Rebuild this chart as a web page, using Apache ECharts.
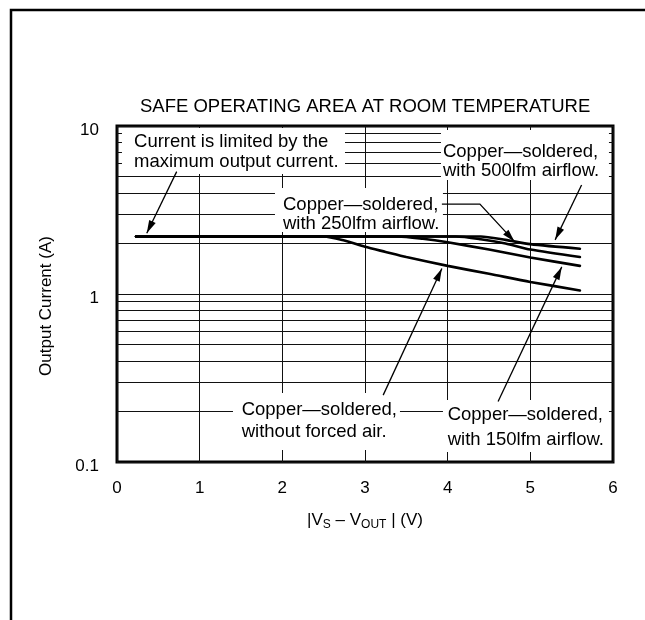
<!DOCTYPE html>
<html>
<head>
<meta charset="utf-8">
<script src="https://cdn.jsdelivr.net/npm/echarts@6/dist/echarts.min.js"></script>
<style>
  html, body { margin: 0; padding: 0; background: #fff; }
  #SoaChart { width: 645px; height: 620px; }
</style>
</head>
<body>
<div id="SoaChart"></div>
<script>
// |Vs - Vout| in volts, output current in amps
const noAirV = [0.23, 2.5, 2.75, 3.0, 3.25, 3.5, 4.0, 4.5, 5.0, 5.6];
const noAirA = [2.2, 2.2, 2.08, 1.91, 1.78, 1.66, 1.47, 1.32, 1.18, 1.05];
const lfm150V = [0.23, 3.4, 3.7, 4.0, 4.5, 5.0, 5.6];
const lfm150A = [2.2, 2.2, 2.13, 2.03, 1.84, 1.65, 1.47];
const lfm250V = [0.23, 4.1, 4.4, 4.7, 5.0, 5.6];
const lfm250A = [2.2, 2.2, 2.12, 2.0, 1.84, 1.66];
const lfm500V = [0.23, 4.4, 4.7, 5.0, 5.6];
const lfm500A = [2.2, 2.2, 2.1, 1.98, 1.86];

const xTicks = [0, 1, 2, 3, 4, 5, 6];
const minorGrid = [0.2, 0.3, 0.4, 0.5, 0.6, 0.7, 0.8, 0.9, 2, 3, 4, 5, 6, 7, 8, 9];

// annotation boxes: [x0, y0, x1, y1] in data units, text anchor, line gap (px)
const notes = [
  { box: [0.06, 9.73, 2.758, 5.18], at: [0.206, 8.06], gap: 20, text: 'Current is limited by the\nmaximum output current.' },
  { box: [3.919, 9.46, 5.951, 4.77], at: [3.943, 7.03], gap: 19, text: 'Copper\u2014soldered,\nwith 500lfm airflow.' },
  { box: [1.911, 4.27, 3.943, 2.34], at: [2.008, 3.39], gap: 19, text: 'Copper\u2014soldered,\nwith 250lfm airflow.' },
  { box: [1.403, 0.2576, 3.423, 0.1179], at: [1.508, 0.204], gap: 22, text: 'Copper\u2014soldered,\nwithout forced air.' },
  { box: [3.943, 0.234, 5.951, 0.1147], at: [4.0, 0.1905], gap: 25, text: 'Copper\u2014soldered,\nwith 150lfm airflow.' }
];
const arrows = [
  [[0.722, 5.35], [0.36, 2.30]],
  [[3.93, 3.43], [4.39, 3.43], [4.81, 2.05]],
  [[5.62, 4.45], [5.30, 2.10]],
  [[3.22, 0.25], [3.93, 1.42]],
  [[4.61, 0.229], [5.38, 1.45]]
];

const FONT = "'Liberation Sans', Arial, Helvetica, sans-serif";
const zip = (xs, ys) => xs.map((x, i) => [x, ys[i]]);

const chart = echarts.init(document.getElementById('SoaChart'));

const curve = (name, xs, ys) => ({
  name: name,
  type: 'line',
  data: zip(xs, ys),
  smooth: 0.25,
  showSymbol: false,
  symbol: 'none',
  animation: false,
  z: 5,
  lineStyle: { color: '#000', width: 2.6, cap: 'round' }
});

chart.setOption({
  animation: false,
  textStyle: { fontFamily: FONT },
  title: {
    text: 'SAFE OPERATING AREA AT ROOM TEMPERATURE',
    left: 135,
    top: 92,
    textStyle: { fontFamily: FONT, fontWeight: 'normal', fontSize: 18.5, color: '#000' }
  },
  grid: {
    left: 117, right: 32, top: 126, bottom: 158,
    show: true, borderColor: '#000', borderWidth: 3, backgroundColor: 'transparent'
  },
  xAxis: {
    type: 'value',
    min: 0, max: 6, interval: 1,
    axisLine: { show: false },
    axisTick: { show: false },
    axisLabel: { margin: 18, fontSize: 17, color: '#000', fontFamily: FONT,
      formatter: v => xTicks.includes(v) ? String(v) : '' },
    splitLine: { show: true, lineStyle: { color: '#111', width: 1 } },
    name: '|V{s|S} \u2013 V{s|OUT} | (V)',
    nameLocation: 'middle',
    nameGap: 48,
    nameTextStyle: {
      fontSize: 17, color: '#000', fontFamily: FONT,
      rich: { s: { fontSize: 12, color: '#000', fontFamily: FONT, padding: [9, 0, 0, 0] } }
    }
  },
  yAxis: {
    type: 'log',
    logBase: 10,
    min: 0.1, max: 10,
    axisLine: { show: false },
    axisTick: { show: false },
    axisLabel: {
      margin: 18, color: '#000',
      formatter: v => '{a|' + v + '}',
      rich: { a: { fontSize: 17, color: '#000', fontFamily: FONT, padding: [8, 0, 0, 0] } }
    },
    splitLine: { show: true, lineStyle: { color: '#111', width: 1 } },
    name: 'Output Current (A)',
    nameLocation: 'middle',
    nameGap: 62,
    nameTextStyle: { fontSize: 17, color: '#000', fontFamily: FONT, padding: [0, 24, 0, 0] }
  },
  series: [
    {
      name: 'grid',
      type: 'line',
      data: [],
      silent: true,
      z: 1,
      markLine: {
        silent: true,
        symbol: 'none',
        animation: false,
        label: { show: false },
        lineStyle: { color: '#111', width: 1, type: 'solid' },
        data: minorGrid.map(v => ({ yAxis: v }))
      }
    },
    curve('Copper-soldered, without forced air', noAirV, noAirA),
    curve('Copper-soldered, with 150lfm airflow', lfm150V, lfm150A),
    curve('Copper-soldered, with 250lfm airflow', lfm250V, lfm250A),
    curve('Copper-soldered, with 500lfm airflow', lfm500V, lfm500A)
  ]
});

const toPx = p => chart.convertToPixel({ gridIndex: 0 }, p);

const buildGraphics = () => {
  const els = [
    {
      type: 'rect',
      silent: true,
      z: -10,
      shape: { x: 11, y: 10, width: 700, height: 700 },
      style: { fill: 'none', stroke: '#000', lineWidth: 2.5 }
    }
  ];
  notes.forEach(n => {
    const a = toPx([n.box[0], n.box[1]]);
    const b = toPx([n.box[2], n.box[3]]);
    els.push({
      type: 'rect', silent: true, z: 20,
      shape: { x: a[0], y: a[1], width: b[0] - a[0], height: b[1] - a[1] },
      style: { fill: '#fff' }
    });
    const t = toPx(n.at);
    els.push({
      type: 'text', silent: true, z: 21,
      x: t[0], y: t[1] - n.gap / 2,
      style: {
        text: n.text, fill: '#000', font: '18.5px ' + FONT,
        lineHeight: n.gap, verticalAlign: 'top', align: 'left'
      }
    });
  });
  arrows.forEach(path => {
    const pts = path.map(toPx);
    els.push({
      type: 'polyline', silent: true, z: 22,
      shape: { points: pts },
      style: { stroke: '#000', lineWidth: 1.3, fill: 'none' }
    });
    const tip = pts[pts.length - 1];
    const prev = pts[pts.length - 2];
    const dx = tip[0] - prev[0], dy = tip[1] - prev[1];
    const len = Math.hypot(dx, dy);
    const ux = dx / len, uy = dy / len;
    const L = 13, W = 3.6;
    els.push({
      type: 'polygon', silent: true, z: 22,
      shape: { points: [
        tip,
        [tip[0] - ux * L - uy * W, tip[1] - uy * L + ux * W],
        [tip[0] - ux * L + uy * W, tip[1] - uy * L - ux * W]
      ] },
      style: { fill: '#000' }
    });
  });
  chart.setOption({ graphic: { elements: els } }, { replaceMerge: ['graphic'] });
};

buildGraphics();

window.addEventListener('resize', () => {
  chart.resize();
  buildGraphics();
});
</script>
</body>
</html>
